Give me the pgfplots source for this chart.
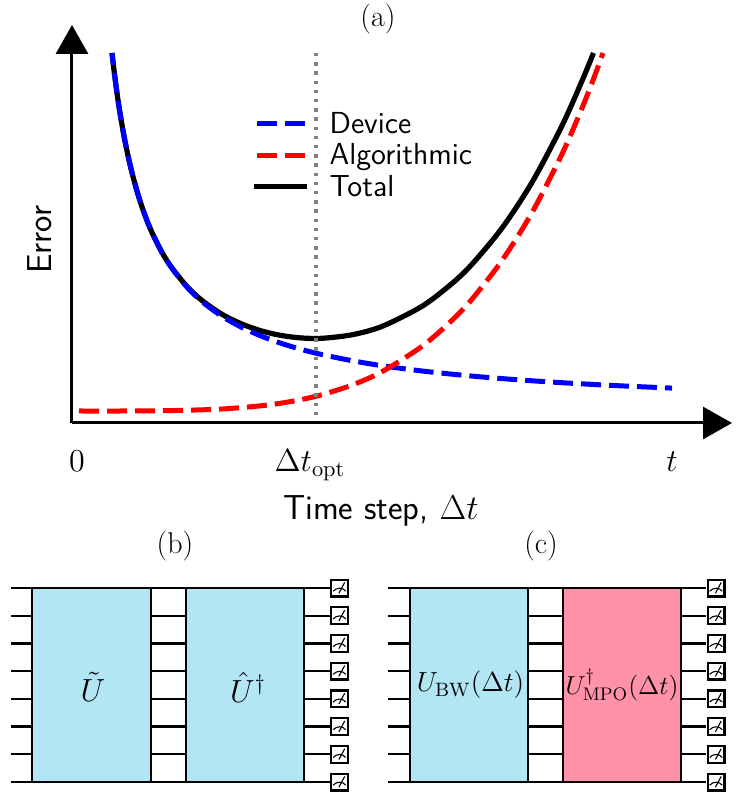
\RequirePackage{fix-cm}
\documentclass[border=0pt]{standalone}
\usepackage{pgfplots}
\pgfplotsset{compat=1.18}
\usetikzlibrary{arrows.meta}

% coordinates in panel (a): pixels from the origin of the axes
\pgfplotstableread{
x y
40 370
42 352.8
45 330
48 310
52 287
56 267.4
60 250.3
65 231.9
70 216.1
75 202.4
80 190.5
90 170.5
100 154.6
115 135.8
130 121.4
150 106.7
170 95.5
190 86.6
210 79.4
230 73.4
250 68.4
280 62.3
310 57.3
350 52
400 46.9
450 42.9
500 39.7
550 37.1
600 34.9
}\device
\pgfplotstableread{
x y
7 12
50 12
100 12.4
150 14
190 17.3
210 20
230 23.6
250 28.3
280 37.9
310 51.3
350 76.7
380 102.7
400 123.9
430 162.5
460 210.4
490 269
510 314.9
521 342.7
531 370
}\algorithmic
\pgfplotstableread{
x y
40 370
42 352.8
45 330
48 310
52 287
56 267.4
60 250.3
65 231.9
70 216.1
75 202.4
80 190.5
90 170.5
100 155
115 136.5
130 122.5
150 108.7
170 98.9
190 91.9
210 87.4
230 85
250 84.7
280 88.2
310 96.6
350 116.7
380 139.5
400 158.8
430 194.9
460 240.6
490 297.3
510 342.1
521.5 370
}\total

\definecolor{gateblue}{HTML}{B3E6F5}
\definecolor{gatepink}{HTML}{FF92A9}

\pgfdeclareplotmark{meter}{%
  \pgfsetlinewidth{1.1pt}%
  \pgfsetfillcolor{white}%
  \pgfpathrectangle{\pgfpoint{-4.2pt}{-4.2pt}}{\pgfpoint{8.4pt}{8.4pt}}%
  \pgfusepath{fill,stroke}%
  \pgfsetlinewidth{0.55pt}%
  \pgfpathmoveto{\pgfpoint{-3.2pt}{-1.6pt}}%
  \pgfpathcurveto{\pgfpoint{-1.4pt}{0.4pt}}{\pgfpoint{1.6pt}{0.4pt}}{\pgfpoint{3.1pt}{-1.6pt}}%
  \pgfusepath{stroke}%
  \pgfpathmoveto{\pgfpoint{-0.3pt}{-2.6pt}}%
  \pgfpathlineto{\pgfpoint{2.6pt}{2.8pt}}%
  \pgfusepath{stroke}%
}

\pgfplotsset{
  panel/.style={
    scale only axis,
    width=186.5pt,
    height=110.86pt,
    xmin=0,xmax=373,
    ymin=-0.5,ymax=7.5,
    axis lines=none,
    clip=false,
  },
  gate/.style={line width=1.4pt,draw=black,fill=#1},
  wire/.style={line width=1.1pt,black,forget plot},
  dashed image/.style={legend image code/.code={
      \path (-1.5pt,0) (25pt,0) (35pt,0);
      \draw[##1] (0pt,0.3ex) -- (24pt,0.3ex);
  }},
  solid image/.style={legend image code/.code={
      \path (-1.5pt,0) (25pt,0) (35pt,0);
      \draw[##1] (-1.5pt,0.3ex) -- (25pt,0.3ex);
  }},
}

\begin{document}
\begin{tikzpicture}
\path[use as bounding box] (0,0) rectangle (373pt,398pt);

\begin{axis}[
    at={(36pt,186.5pt)},
    anchor=south west,
    scale only axis,
    width=330pt,
    height=199pt,
    xmin=0,xmax=660,
    ymin=0,ymax=398,
    axis lines=left,
    axis line style={line width=1.5pt,-{Triangle[width=16pt,length=14.5pt]}},
    clip=false,
    ytick=\empty,
    xtick={5,238,600},
    xticklabels={$0$,$\Delta t_{\mathrm{opt}}$,$t$},
    major tick length=0pt,
    tick label style={font=\fontsize{16}{18}\selectfont},
    xticklabel style={anchor=base,yshift=-24.5pt},
    xlabel={Time step, $\Delta t$},
    xlabel style={font=\fontsize{17.3}{19}\selectfont\sffamily,at={(axis description cs:0.468,0)},anchor=base,yshift=-48.5pt},
    ylabel={Error},
    ylabel style={font=\fontsize{17.3}{19}\selectfont\sffamily,at={(axis description cs:-0.0303,0.46)},anchor=base},
    title={(a)},
    title style={font=\fontsize{15}{17}\selectfont,at={(axis description cs:0.4636,0.985)},anchor=center},
    legend style={
      draw=none,fill=none,inner sep=0pt,
      at={(axis cs:179,312)},anchor=north west,
      font=\fontsize{15.2}{17}\selectfont\sffamily,
      row sep=0.75pt,column sep=0pt,
      nodes={inner sep=0pt,text height=11pt,text depth=4pt},
    },
    legend cell align=left,
]
\addlegendimage{dashed image,blue,line width=2.5pt,dash pattern=on 10pt off 4pt}
\addlegendentry{Device}
\addlegendimage{dashed image,red,line width=2.5pt,dash pattern=on 10pt off 4pt}
\addlegendentry{Algorithmic}
\addlegendimage{solid image,black,line width=2.6pt}
\addlegendentry{Total}
\addplot[black,line width=2.6pt,smooth,forget plot] table {\total};
\addplot[blue,line width=2.5pt,dash pattern=on 10pt off 4pt,dash phase=4pt,smooth,forget plot] table {\device};
\addplot[red,line width=2.5pt,dash pattern=on 10pt off 4pt,smooth,forget plot] table {\algorithmic};
\addplot[gray,line width=1.7pt,dash pattern=on 1.7pt off 2.9pt,forget plot] coordinates {(244,370) (244,5)};
\end{axis}

\begin{axis}[panel,at={(0pt,0.07pt)},anchor=south west]
\pgfplotsinvokeforeach{0,...,7}{
  \addplot[wire] coordinates {(11,#1) (330,#1)};
}
\addplot[gate=gateblue] coordinates {(32,0) (151,0) (151,7) (32,7)} -- cycle;
\addplot[gate=gateblue] coordinates {(186,0) (304,0) (304,7) (186,7)} -- cycle;
\addplot[only marks,mark=meter] coordinates {(339.5,0) (339.5,1) (339.5,2) (339.5,3) (339.5,4) (339.5,5) (339.5,6) (339.5,7)};
\node[font=\fontsize{16}{18}\selectfont] at (axis cs:93,3.42) {$\tilde{U}$};
\node[font=\fontsize{16}{18}\selectfont] at (axis cs:248,3.42) {$\hat{U}^\dagger$};
\node[font=\fontsize{15}{17}\selectfont] at (axis cs:175,8.52) {(b)};
\end{axis}

\begin{axis}[panel,at={(186.5pt,0.07pt)},anchor=south west]
\pgfplotsinvokeforeach{0,...,7}{
  \addplot[wire] coordinates {(15,#1) (333,#1)};
}
\addplot[gate=gateblue] coordinates {(37,0) (155,0) (155,7) (37,7)} -- cycle;
\addplot[gate=gatepink] coordinates {(190,0) (308,0) (308,7) (190,7)} -- cycle;
\addplot[only marks,mark=meter] coordinates {(343,0) (343,1) (343,2) (343,3) (343,4) (343,5) (343,6) (343,7)};
\node[font=\fontsize{13.8}{16}\selectfont] at (axis cs:97.5,3.5) {$U_{\mathrm{BW}}(\Delta t)$};
\node[font=\fontsize{13}{15}\selectfont] at (axis cs:249,3.5) {$U^\dagger_{\mathrm{MPO}}(\Delta t)$};
\node[font=\fontsize{15}{17}\selectfont] at (axis cs:168,8.52) {(c)};
\end{axis}
\end{tikzpicture}
\end{document}
